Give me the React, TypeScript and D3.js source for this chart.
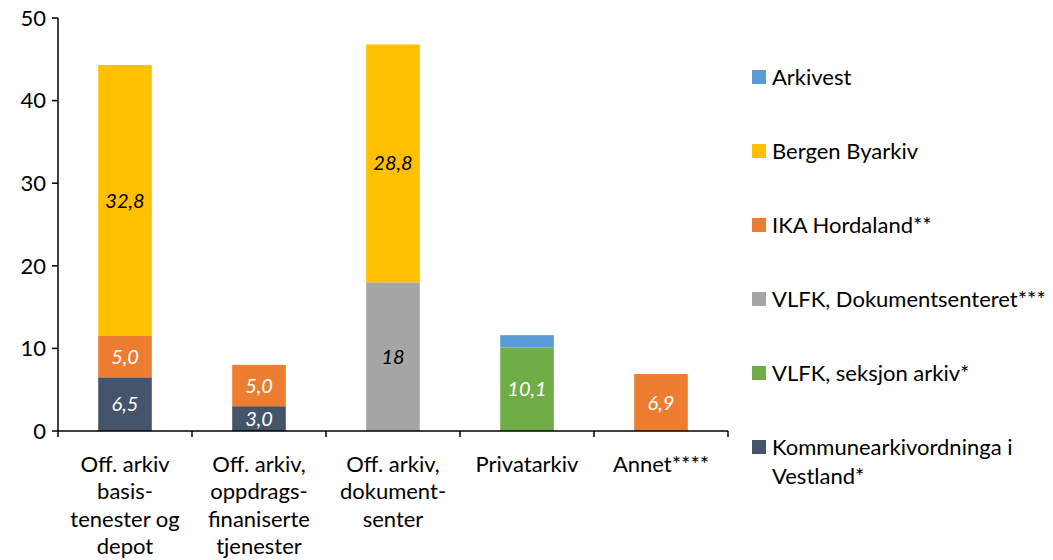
import React from "react";
import * as d3 from "d3";

const categories = [
  ["Off. arkiv", "basis-", "tenester og", "depot"],
  ["Off. arkiv,", "oppdrags-", "finaniserte", "tjenester"],
  ["Off. arkiv,", "dokument-", "senter"],
  ["Privatarkiv"],
  ["Annet****"],
];

// stacking order bottom -> top
const seriesNames = [
  "Kommunearkivordninga i Vestland*",
  "VLFK, seksjon arkiv*",
  "VLFK, Dokumentsenteret***",
  "IKA Hordaland**",
  "Bergen Byarkiv",
  "Arkivest",
];
const seriesColors = ["#44546A", "#70AD47", "#A5A5A5", "#ED7D31", "#FFC000", "#5B9BD5"];
const labelColors = ["#ffffff", "#ffffff", "#000000", "#ffffff", "#000000", null];
const labelDecimals = [1, 1, 0, 1, 1, 1];

const kommune = [6.5, 3.0, 0, 0, 0];
const vlfkSeksjon = [0, 0, 0, 10.1, 0];
const vlfkDok = [0, 0, 18, 0, 0];
const ika = [5.0, 5.0, 0, 0, 6.9];
const bergen = [32.8, 0, 28.8, 0, 0];
const arkivest = [0, 0, 0, 1.5, 0];
const seriesValues = [kommune, vlfkSeksjon, vlfkDok, ika, bergen, arkivest];

const legendOrder = [5, 4, 3, 2, 1, 0];
const legendLines = [
  ["Arkivest"],
  ["Bergen Byarkiv"],
  ["IKA Hordaland**"],
  ["VLFK, Dokumentsenteret***"],
  ["VLFK, seksjon arkiv*"],
  ["Kommunearkivordninga i", "Vestland*"],
];

const yTicks = [0, 10, 20, 30, 40, 50];

const W = 1053, H = 560;
const FONT = "Lato, 'Open Sans', sans-serif";

export default function App() {
  const x0 = 58, x1 = 728;
  const yBottom = 431, yTop = 18;
  const x = d3.scaleBand<number>().domain(categories.map((_, i) => i)).range([x0, x1]).paddingInner(0.6).paddingOuter(0.3);
  const xb = d3.scaleBand<number>().domain(categories.map((_, i) => i)).range([x0, x1]);
  const y = d3.scaleLinear().domain([0, 50]).range([yBottom, yTop]);

  const rows = categories.map((_, i) => {
    const r: any = { i };
    seriesValues.forEach((s, k) => (r[k] = s[i]));
    return r;
  });
  const stack = d3.stack<any>().keys(seriesNames.map((_, k) => String(k)));
  const stacked = stack(rows);

  const fmt = (v: number, dec: number) => d3.format(`.${dec}f`)(v).replace(".", ",");

  return (
    <svg width={W} height={H} style={{ position: "absolute", left: 0, top: 0, background: "#fff" }} fontFamily={FONT}>
      {stacked.map((layer, k) => (
        <g key={k}>
          {layer.map((d, i) => {
            const v = d[1] - d[0];
            if (v <= 0) return null;
            const bx = x(i)!;
            const bw = x.bandwidth();
            const yt = y(d[1]);
            const yb = y(d[0]);
            return (
              <g key={i}>
                <rect x={bx} y={yt} width={bw} height={yb - yt} fill={seriesColors[k]} />
                {labelColors[k] && (
                  <text x={bx + bw / 2} y={(yt + yb) / 2} dy="0.35em" textAnchor="middle" fontSize={20} fontStyle="italic" fill={labelColors[k]!}>
                    {fmt(v, labelDecimals[k])}
                  </text>
                )}
              </g>
            );
          })}
        </g>
      ))}
      {/* y axis */}
      <line x1={x0} x2={x0} y1={yTop} y2={yBottom} stroke="#000" strokeWidth={1.5} />
      {yTicks.map((t) => (
        <g key={t}>
          <line x1={x0 - 6} x2={x0} y1={y(t)} y2={y(t)} stroke="#000" strokeWidth={1.5} />
          <text x={x0 - 12} y={y(t)} dy="0.35em" textAnchor="end" fontSize={22} fill="#000">{t}</text>
        </g>
      ))}
      {/* x axis */}
      <line x1={x0} x2={x1} y1={yBottom} y2={yBottom} stroke="#000" strokeWidth={1.5} />
      {[...categories.map((_, i) => xb(i)!), x1].map((tx, i) => (
        <line key={i} x1={tx} x2={tx} y1={yBottom} y2={yBottom + 6} stroke="#000" strokeWidth={1.5} />
      ))}
      {categories.map((lines, i) => (
        <text key={i} x={xb(i)! + xb.bandwidth() / 2} y={464} textAnchor="middle" fontSize={22} fill="#000">
          {lines.map((l, j) => (
            <tspan key={j} x={xb(i)! + xb.bandwidth() / 2} dy={j === 0 ? "0.35em" : 27.5}>{l}</tspan>
          ))}
        </text>
      ))}
      {/* legend */}
      {legendOrder.map((k, idx) => {
        const cy = 77 + idx * 74;
        return (
          <g key={k}>
            <rect x={752} y={cy - 7} width={14} height={14} fill={seriesColors[k]} />
            <text x={772} y={cy} fontSize={22} fill="#000">
              {legendLines[idx].map((l, j) => (
                <tspan key={j} x={772} dy={j === 0 ? "0.35em" : 29}>{l}</tspan>
              ))}
            </text>
          </g>
        );
      })}
    </svg>
  );
}
